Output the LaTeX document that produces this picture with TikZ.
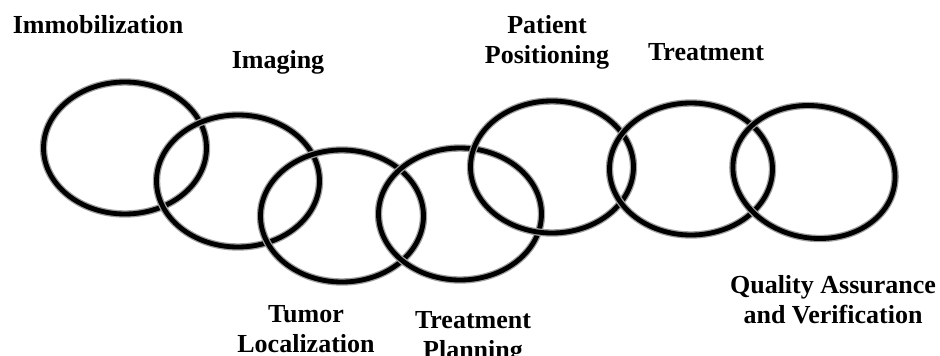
\documentclass[tikz,border=0pt]{standalone}
\usepackage{fontspec}
\setmainfont{Liberation Serif}
\usetikzlibrary{shapes.geometric}
\begin{document}
\begin{tikzpicture}[x=1pt,y=-1pt,
  ring/.style={ellipse, draw=gray!75, line width=1.3pt, double=black,
    double distance=4.8pt, minimum width=163pt, minimum height=132pt,
    inner sep=0pt},
  label/.style={font=\fontsize{26}{30}\selectfont\bfseries, align=center,
    inner sep=0pt, anchor=base}]
  \useasboundingbox (0,0) rectangle (940,356);
  % chain of rings
  \node[ring] (r1) at (125,148) {};
  \node[ring] (r2) at (238,181) {};
  \node[ring] (r3) at (342,216) {};
  \node[ring] (r4) at (460,214) {};
  \node[ring] (r5) at (552,167) {};
  \node[ring] (r6) at (691,169) {};
  \node[ring, rotate=-10] (r7) at (814,172) {};
  % step labels (base anchor = baseline of the last line)
  \node[label] (t1) at (98,33) {Immobilization};
  \node[label] (t2) at (278,68) {Imaging};
  \node[label] (t3) at (306,352) {Tumor\\Localization};
  \node[label] (t4) at (473,358) {Treatment\\Planning};
  \node[label] (t5) at (547,63) {Patient\\Positioning};
  \node[label] (t6) at (706,60) {Treatment};
  \node[label] (t7) at (833,323) {Quality Assurance\\and Verification};
\end{tikzpicture}
\end{document}
